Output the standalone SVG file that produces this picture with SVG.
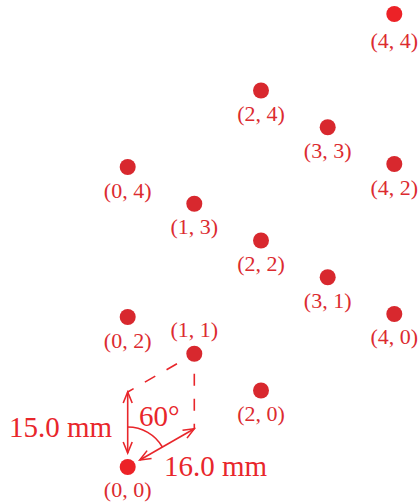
<svg xmlns="http://www.w3.org/2000/svg" width="420" height="504" viewBox="0 0 420 504">
<style>
.dot{fill:#d8282e}
.dot.hi{fill:#ec2227}
.lbl{font-family:"Liberation Serif","Times New Roman",serif;font-size:22px;fill:#dc2b30;text-anchor:middle}
.big{font-family:"Liberation Serif","Times New Roman",serif;font-size:29px;fill:#e8262b}
.dash{stroke:#e8262b;stroke-width:1.6;fill:none;stroke-dasharray:12 13;stroke-dashoffset:5}
.dim{stroke:#e8262b;stroke-width:1.6;fill:none}
</style>
<defs>
<marker id="ah" markerUnits="userSpaceOnUse" viewBox="-12 -6 14 12" refX="0" refY="0" markerWidth="14" markerHeight="12" orient="auto-start-reverse">
<path d="M-11,-4.5 L0,0 L-11,4.5" fill="none" stroke="#e8262b" stroke-width="1.6"/>
</marker>
</defs>
<g id="connectors">
<line class="dash" x1="194.3" y1="353.75" x2="194.3" y2="428.75"/>
<line class="dash" x1="194.3" y1="353.75" x2="127.7" y2="392"/>
<line class="dim" x1="127.7" y1="392" x2="127.7" y2="453" marker-start="url(#ah)" marker-end="url(#ah)"/>
<line class="dim" x1="139.8" y1="460" x2="194.3" y2="428.75" marker-start="url(#ah)" marker-end="url(#ah)"/>
<path class="dim" d="M127.7,427 A40,40 0 0 1 162.34,447"/>
</g>
<g id="n00"><circle class="dot hi" cx="127.7" cy="467" r="8"/><text class="lbl" x="127.7" y="497">(0, 0)</text></g>
<g id="n02"><circle class="dot" cx="127.7" cy="317" r="8"/><text class="lbl" x="127.7" y="347.5">(0, 2)</text></g>
<g id="n04"><circle class="dot" cx="127.7" cy="167" r="8"/><text class="lbl" x="127.7" y="197.5">(0, 4)</text></g>
<g id="n11"><circle class="dot" cx="194.3" cy="353.75" r="8"/><text class="lbl" x="194.3" y="336.7">(1, 1)</text></g>
<g id="n13"><circle class="dot" cx="194.3" cy="203.75" r="8"/><text class="lbl" x="194.3" y="234.2">(1, 3)</text></g>
<g id="n20"><circle class="dot" cx="261" cy="390.5" r="8"/><text class="lbl" x="261" y="421">(2, 0)</text></g>
<g id="n22"><circle class="dot" cx="261" cy="240.5" r="8"/><text class="lbl" x="261" y="271">(2, 2)</text></g>
<g id="n24"><circle class="dot" cx="261" cy="90.5" r="8"/><text class="lbl" x="261" y="121">(2, 4)</text></g>
<g id="n31"><circle class="dot" cx="327.7" cy="277.25" r="8"/><text class="lbl" x="327.7" y="307.7">(3, 1)</text></g>
<g id="n33"><circle class="dot" cx="327.7" cy="127.25" r="8"/><text class="lbl" x="327.7" y="157.7">(3, 3)</text></g>
<g id="n40"><circle class="dot" cx="394.3" cy="314" r="8"/><text class="lbl" x="394.3" y="344">(4, 0)</text></g>
<g id="n42"><circle class="dot" cx="394.3" cy="164" r="8"/><text class="lbl" x="394.3" y="194.5">(4, 2)</text></g>
<g id="n44"><circle class="dot hi" cx="394.3" cy="14" r="8"/><text class="lbl" x="394.3" y="47.5">(4, 4)</text></g>
<g id="dims">
<text class="big" x="9" y="437.3">15.0 mm</text>
<text class="big" x="139" y="426">60°</text>
<text class="big" x="164" y="476">16.0 mm</text>
</g>
</svg>
